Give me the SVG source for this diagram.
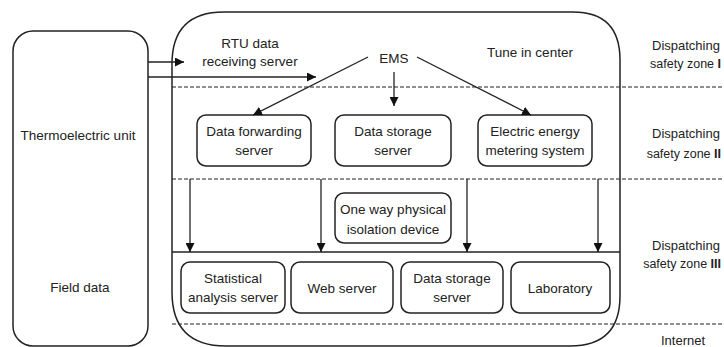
<svg xmlns="http://www.w3.org/2000/svg" width="724" height="347" viewBox="0 0 724 347">
<defs>
<marker id="ah" viewBox="0 0 10 10" refX="10" refY="5" markerWidth="9" markerHeight="9" markerUnits="userSpaceOnUse" orient="auto">
<path d="M0,0 L10,5 L0,10 z" fill="#111"/>
</marker>
<style>
text{font-family:"Liberation Sans",Arial,sans-serif;font-size:13.5px;fill:#222;text-anchor:middle}
.lbl{text-anchor:start;font-size:13px}
.sz{text-anchor:end;font-size:12.5px}
.box{fill:#fff;stroke:#222;stroke-width:1.5}
.frame{fill:none;stroke:#222;stroke-width:1.5}
.dash{stroke:#222;stroke-width:1.2;stroke-dasharray:4,2;fill:none}
.line{stroke:#222;stroke-width:1.3;fill:none}
.arr{stroke:#222;stroke-width:1.3;fill:none;marker-end:url(#ah)}
.b{font-weight:bold}
</style>
</defs>
<rect width="724" height="347" fill="#fff"/>

<g id="field">
<rect class="frame" x="13" y="31" width="135" height="315" rx="20" ry="20"/>
<text x="78" y="140">Thermoelectric unit</text>
<text x="80" y="292">Field data</text>
</g>

<g id="center">
<path class="frame" d="M172,64 Q172,12 224,12 L573,12 Q620,12 620,60 L620,296 Q620,346 570,346 L226,346 Q172,346 172,292 Z"/>
<text x="530" y="57">Tune in center</text>
</g>

<g id="zones">
<line class="dash" x1="172" y1="87" x2="724" y2="87"/>
<line class="dash" x1="172" y1="179" x2="724" y2="179"/>
<line class="dash" x1="172" y1="324" x2="724" y2="324"/>
<line class="line" x1="172" y1="252" x2="620" y2="252"/>
<text class="lbl" x="652" y="50">Dispatching</text>
<text class="sz" x="721" y="68">safety zone <tspan class="b">I</tspan></text>
<text class="lbl" x="652" y="138">Dispatching</text>
<text class="sz" x="721" y="158">safety zone <tspan class="b">II</tspan></text>
<text class="lbl" x="652" y="250">Dispatching</text>
<text class="sz" x="721" y="268">safety zone <tspan class="b">III</tspan></text>
<text class="lbl" x="661" y="345">Internet</text>
</g>

<g id="rtu">
<text x="250" y="48">RTU data</text>
<text x="250" y="66">receiving server</text>
</g>

<g id="ems">
<text x="394" y="63">EMS</text>
</g>

<g id="fwd">
<rect class="box" x="197" y="115" width="114" height="51" rx="9"/>
<text x="254" y="136">Data forwarding</text>
<text x="254" y="155">server</text>
</g>
<g id="store1">
<rect class="box" x="335" y="115" width="116" height="51" rx="9"/>
<text x="393" y="136">Data storage</text>
<text x="393" y="155">server</text>
</g>
<g id="meter">
<rect class="box" x="478" y="115" width="114" height="51" rx="9"/>
<text x="535" y="136">Electric energy</text>
<text x="535" y="155">metering system</text>
</g>
<g id="iso">
<rect class="box" x="335" y="193" width="116" height="50" rx="9"/>
<text x="393" y="214">One way physical</text>
<text x="393" y="234">isolation device</text>
</g>
<g id="stat">
<rect class="box" x="181" y="262" width="104" height="51" rx="9"/>
<text x="233" y="283">Statistical</text>
<text x="233" y="302">analysis server</text>
</g>
<g id="web">
<rect class="box" x="291" y="262" width="102" height="51" rx="9"/>
<text x="342" y="293">Web server</text>
</g>
<g id="store2">
<rect class="box" x="401" y="262" width="102" height="51" rx="9"/>
<text x="452" y="283">Data storage</text>
<text x="452" y="302">server</text>
</g>
<g id="lab">
<rect class="box" x="511" y="262" width="99" height="51" rx="9"/>
<text x="560" y="293">Laboratory</text>
</g>

<g id="connectors">
<line class="arr" x1="148" y1="62" x2="184" y2="62"/>
<line class="arr" x1="148" y1="77" x2="316" y2="77"/>
<line class="arr" x1="368" y1="57" x2="253" y2="115"/>
<line class="arr" x1="394" y1="72" x2="394" y2="106"/>
<line class="arr" x1="417" y1="57" x2="531" y2="115"/>
<line class="arr" x1="190" y1="179" x2="190" y2="252"/>
<line class="arr" x1="321" y1="179" x2="321" y2="252"/>
<line class="arr" x1="467" y1="179" x2="467" y2="252"/>
<line class="arr" x1="598" y1="179" x2="598" y2="252"/>
</g>
</svg>
